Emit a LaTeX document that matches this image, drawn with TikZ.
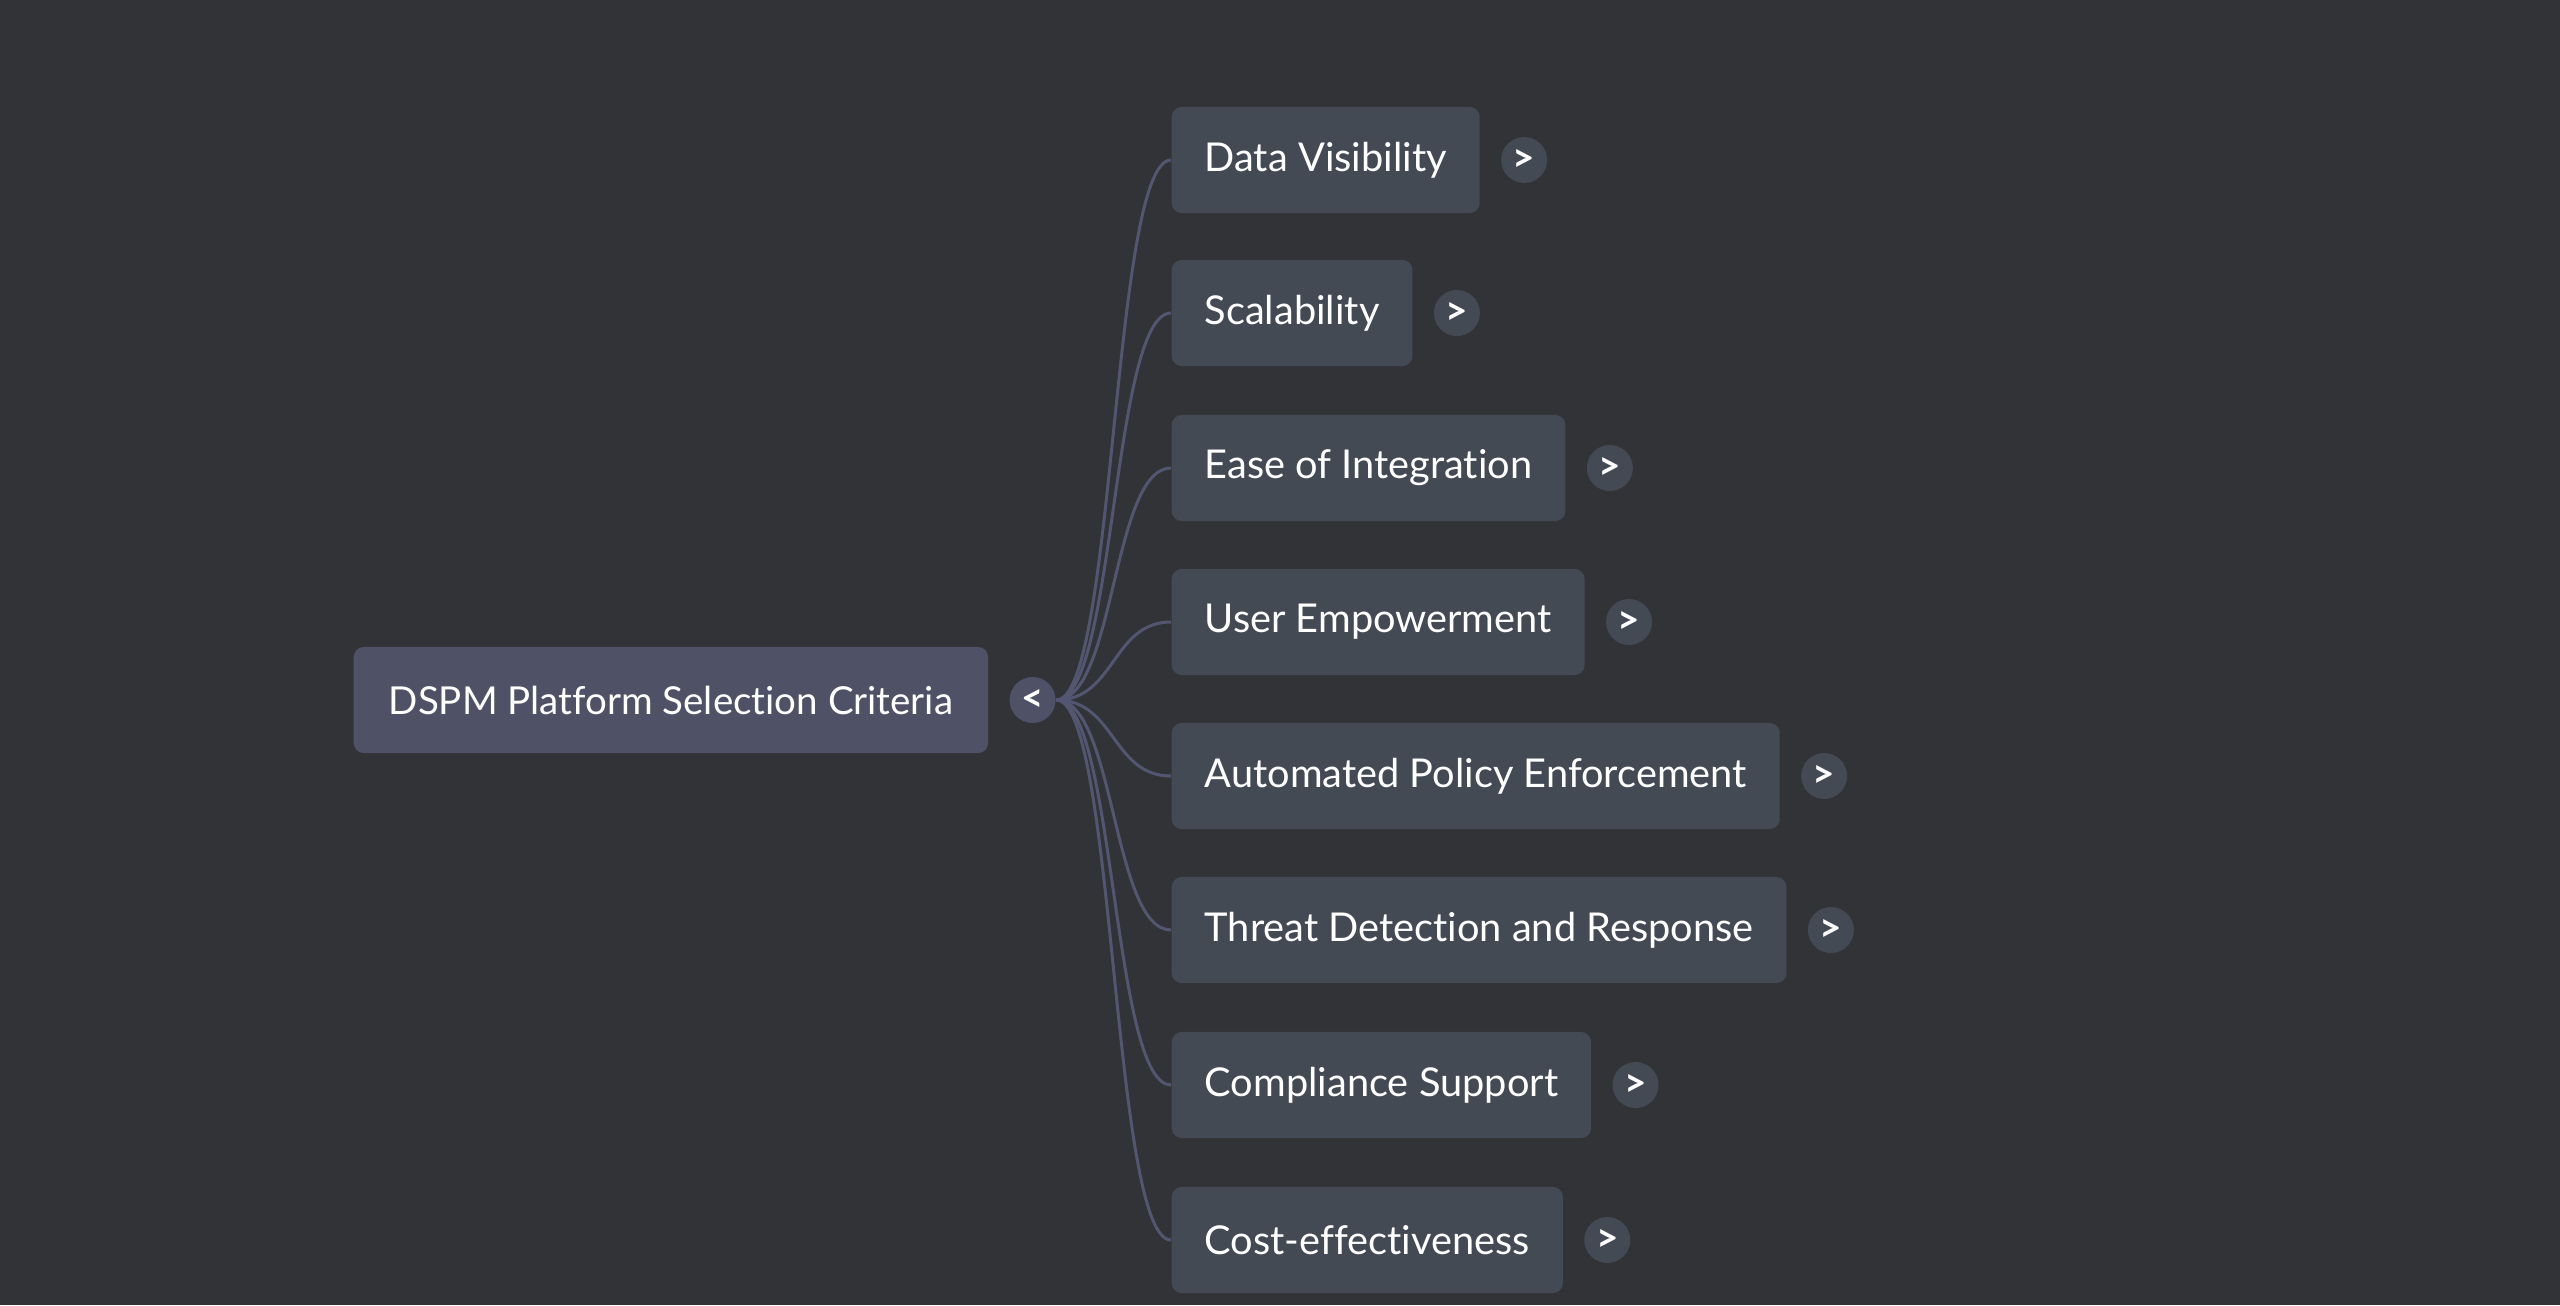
\documentclass[tikz,border=0pt]{standalone}
\usepackage{fontspec}
\setmainfont{Lato}[Ligatures={NoCommon,NoRare}]
\usetikzlibrary{positioning}
\definecolor{bgcol}{HTML}{323337}
\definecolor{rootcol}{HTML}{4F5166}
\definecolor{topiccol}{HTML}{434A54}
\definecolor{linkcol}{HTML}{525670}

\begin{document}
\begin{tikzpicture}[x=0.01cm,y=-0.01cm,
  topic/.style={anchor=west,fill=topiccol,rounded corners=0.1cm,minimum height=1.06cm,inner xsep=0.33cm,text=white,font=\fontsize{11.3}{13}\selectfont},
  rootbox/.style={topic,fill=rootcol,inner xsep=0.35cm,font=\fontsize{10.95}{13}\selectfont},
  knob/.style={circle,fill=topiccol,minimum size=0.46cm,inner sep=0pt,text=white,font=\bfseries\fontsize{11}{13}\selectfont},
  link/.style={draw=linkcol,line width=0.03cm}]
\fill[bgcol] (0,0) rectangle (2560,1305);
\node[rootbox] (r) at (353,700) {DSPM Platform Selection Criteria} ;
\node[knob,fill=rootcol,right=0.2cm of r] (t0) {<} ;
\node[topic] (c1) at (1171,160) {Data Visibility} ;
\node[topic] (c2) at (1171,313) {Scalability} ;
\node[topic] (c3) at (1171,468) {Ease of Integration} ;
\node[topic] (c4) at (1171,622) {User Empowerment} ;
\node[topic] (c5) at (1171,776) {Automated Policy Enforcement} ;
\node[topic] (c6) at (1171,930) {Threat Detection and Response} ;
\node[topic] (c7) at (1171,1085) {Compliance Support} ;
\node[topic] (c8) at (1171,1240) {Cost-effectiveness} ;
\node[knob,right=0.2cm of c1] (t1) {>} ;
\node[knob,right=0.2cm of c2] (t2) {>} ;
\node[knob,right=0.2cm of c3] (t3) {>} ;
\node[knob,right=0.2cm of c4] (t4) {>} ;
\node[knob,right=0.2cm of c5] (t5) {>} ;
\node[knob,right=0.2cm of c6] (t6) {>} ;
\node[knob,right=0.2cm of c7] (t7) {>} ;
\node[knob,right=0.2cm of c8] (t8) {>} ;
\draw[link] (t0.east) .. controls +(59,0) and +(-59,0) .. (c1.west) ;
\draw[link] (t0.east) .. controls +(59,0) and +(-59,0) .. (c2.west) ;
\draw[link] (t0.east) .. controls +(59,0) and +(-59,0) .. (c3.west) ;
\draw[link] (t0.east) .. controls +(59,0) and +(-59,0) .. (c4.west) ;
\draw[link] (t0.east) .. controls +(59,0) and +(-59,0) .. (c5.west) ;
\draw[link] (t0.east) .. controls +(59,0) and +(-59,0) .. (c6.west) ;
\draw[link] (t0.east) .. controls +(59,0) and +(-59,0) .. (c7.west) ;
\draw[link] (t0.east) .. controls +(59,0) and +(-59,0) .. (c8.west) ;
\end{tikzpicture}
\end{document}
